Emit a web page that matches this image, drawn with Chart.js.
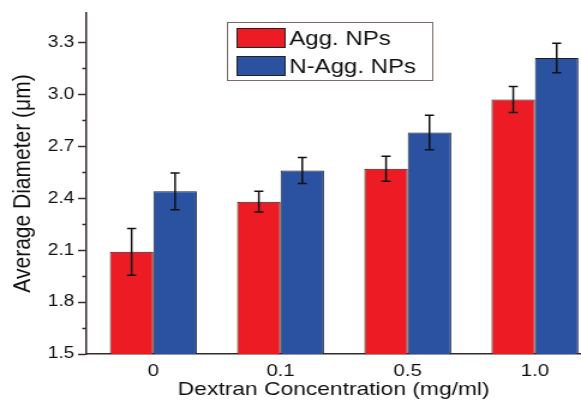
<!DOCTYPE html>
<html><head><meta charset="utf-8">
<script src="https://cdn.jsdelivr.net/npm/chart.js@4"></script>
<style>
html,body{margin:0;padding:0;background:#fff;overflow:hidden}
</style>
</head><body>
<canvas id="c" width="484" height="405" style="display:block;width:581px;height:405px"></canvas>
<script>
// ---- data ----
const categories = ['0', '0.1', '0.5', '1.0'];
const seriesNames = ['Agg. NPs', 'N-Agg. NPs'];
const aggValues = [2.09, 2.38, 2.57, 2.97];
const aggErrors = [0.135, 0.06, 0.072, 0.075];
const naggValues = [2.44, 2.56, 2.78, 3.21];
const naggErrors = [0.106, 0.075, 0.10, 0.085];
const yMajorTicks = [1.5, 1.8, 2.1, 2.4, 2.7, 3.0, 3.3];
const yMinorTicks = [1.65, 1.95, 2.25, 2.55, 2.85, 3.15];
const xTitle = 'Dextran Concentration (mg/ml)';
const yTitle = 'Average Diameter (\u03bcm)';

// ---- style ----
const FONT = "'Liberation Sans', Arial, Helvetica, sans-serif";
const TEXT = '#111';
const AXIS = '#352b2a';
const RED = '#ED1C24';
const BLUE = '#2A52A1';
Chart.defaults.font.family = FONT;

const isMajor = v => yMajorTicks.some(m => Math.abs(m - v) < 1e-6);

const extrasPlugin = {
  id: 'extras',
  afterDatasetsDraw(chart) {
    const ctx = chart.ctx, ys = chart.scales.y;
    ctx.save();
    ctx.strokeStyle = '#111';
    ctx.lineWidth = 1.5;
    chart.data.datasets.forEach((ds, di) => {
      const meta = chart.getDatasetMeta(di);
      meta.data.forEach((bar, i) => {
        const v = ds.data[i].y, e = ds.errors[i];
        const x = bar.x, yt = ys.getPixelForValue(v + e), yb = ys.getPixelForValue(v - e);
        const cap = 3.8;
        ctx.beginPath();
        ctx.moveTo(x, yt); ctx.lineTo(x, yb);
        ctx.moveTo(x - cap, yt); ctx.lineTo(x + cap, yt);
        ctx.moveTo(x - cap, yb); ctx.lineTo(x + cap, yb);
        ctx.stroke();
      });
    });
    ctx.restore();
  },
  afterDraw(chart) {
    const ctx = chart.ctx, ys = chart.scales.y, area = chart.chartArea;
    ctx.save();
    // minor ticks
    ctx.strokeStyle = AXIS;
    ctx.lineWidth = 1.5;
    yMinorTicks.forEach(v => {
      const y = Math.round(ys.getPixelForValue(v)) + 0.5;
      ctx.beginPath();
      ctx.moveTo(area.left - 3.5, y); ctx.lineTo(area.left, y);
      ctx.stroke();
    });
    // legend box
    const bx = 189, by = 22, bw = 171, bh = 58;
    ctx.fillStyle = '#fff';
    ctx.fillRect(bx, by, bw, bh);
    ctx.strokeStyle = '#7a6a66';
    ctx.lineWidth = 1;
    ctx.strokeRect(bx + 0.5, by + 0.5, bw, bh);
    chart.data.datasets.forEach((ds, i) => {
      const sy = 28 + i * 28;
      ctx.fillStyle = ds.backgroundColor;
      ctx.fillRect(197, sy, 40.5, 19.5);
      ctx.strokeStyle = '#222';
      ctx.lineWidth = 1;
      ctx.strokeRect(197.5, sy + 0.5, 40, 19);
      ctx.fillStyle = TEXT;
      ctx.font = '20px ' + FONT;
      ctx.textBaseline = 'middle';
      ctx.textAlign = 'left';
      ctx.fillText(ds.label, 241, sy + 11);
    });
    ctx.restore();
  }
};

new Chart(document.getElementById('c'), {
  type: 'bar',
  data: {
    datasets: [
      {
        label: seriesNames[0],
        data: aggValues.map((v, i) => ({x: i, y: v})),
        errors: aggErrors,
        backgroundColor: RED,
        borderColor: '#2a1c1c',
        borderWidth: 1,
        categoryPercentage: 0.683,
        barPercentage: 1
      },
      {
        label: seriesNames[1],
        data: naggValues.map((v, i) => ({x: i, y: v})),
        errors: naggErrors,
        backgroundColor: BLUE,
        borderColor: '#1c1c2a',
        borderWidth: 1,
        categoryPercentage: 0.683,
        barPercentage: 1
      }
    ]
  },
  options: {
    responsive: false,
    devicePixelRatio: 1,
    animation: false,
    layout: {padding: {top: 13, right: 0, bottom: 0, left: 0}},
    plugins: {legend: {display: false}, tooltip: {enabled: false}},
    scales: {
      x: {
        type: 'linear',
        min: -0.526,
        max: 3.362,
        offset: false,
        afterBuildTicks: s => { s.ticks = categories.map((c, i) => ({value: i})); },
        ticks: {
          callback: v => categories[v] !== undefined ? categories[v] : '',
          font: {size: 17}, color: TEXT, padding: 7, autoSkip: false, maxRotation: 0
        },
        grid: {display: false, drawTicks: false, offset: false},
        border: {display: true, color: AXIS, width: 1.5},
        title: {display: true, text: xTitle, font: {size: 19}, color: TEXT, padding: {top: 0, bottom: 4}},
        afterFit: s => { s.height = 51; }
      },
      y: {
        type: 'linear',
        min: 1.5,
        max: 3.47,
        afterBuildTicks: s => {
          s.ticks = yMajorTicks.concat(yMinorTicks).sort((a, b) => a - b).map(v => ({value: v}));
        },
        ticks: {
          callback: v => isMajor(v) ? v.toFixed(1) : '',
          font: {size: 16}, color: TEXT, padding: 3, autoSkip: false
        },
        grid: {
          drawOnChartArea: false, tickLength: 7, tickWidth: 1.5,
          tickColor: c => (c.tick && isMajor(c.tick.value)) ? AXIS : 'rgba(0,0,0,0)'
        },
        border: {display: true, color: AXIS, width: 1.5},
        title: {display: true, text: yTitle, font: {size: 21}, color: TEXT, padding: {top: 6.6, bottom: 0}},
        afterFit: s => { s.width = 72; }
      }
    }
  },
  plugins: [extrasPlugin]
});
</script>
</body></html>
